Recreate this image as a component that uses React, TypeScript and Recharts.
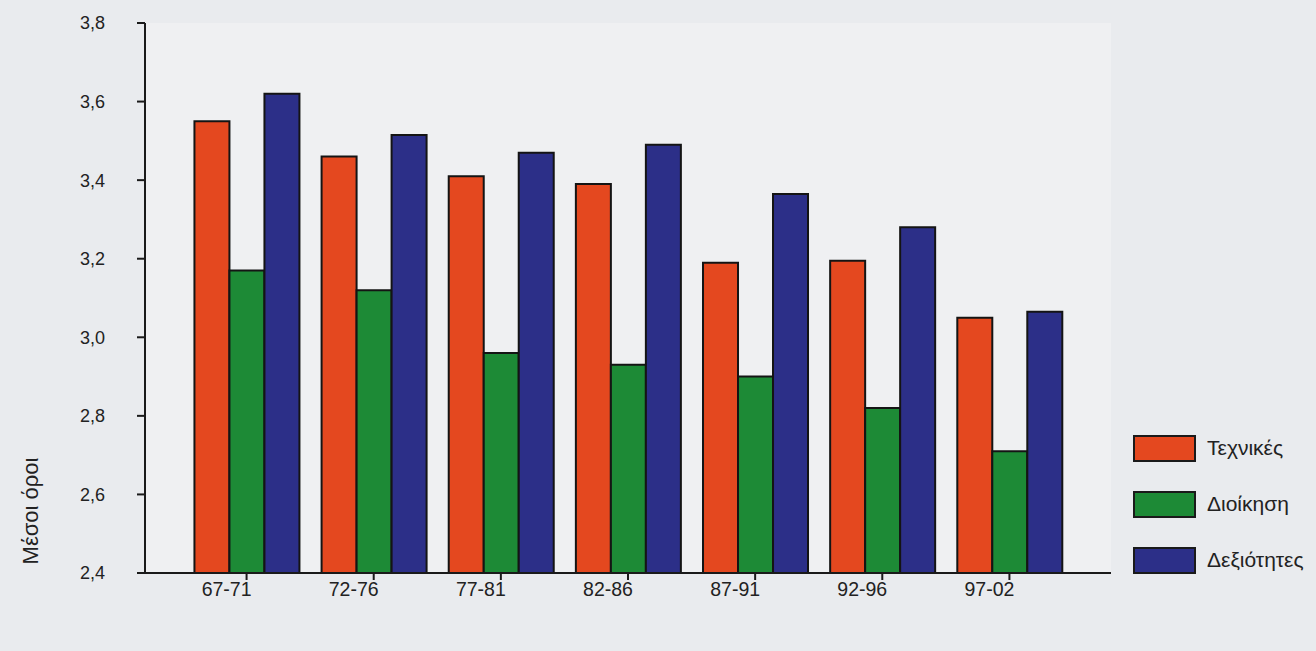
import { BarChart, Bar, XAxis, YAxis, CartesianGrid } from 'recharts';

const periods = ['67-71', '72-76', '77-81', '82-86', '87-91', '92-96', '97-02'];
const texnikes = [3.55, 3.46, 3.41, 3.39, 3.19, 3.195, 3.05];
const dioikisi = [3.17, 3.12, 2.96, 2.93, 2.9, 2.82, 2.71];
const dexiotites = [3.62, 3.515, 3.47, 3.49, 3.365, 3.28, 3.065];
const yTicks = [2.4, 2.6, 2.8, 3.0, 3.2, 3.4, 3.6, 3.8];

const seriesInfo = [
  { key: 'texnikes', name: 'Τεχνικές', color: '#e4481f' },
  { key: 'dioikisi', name: 'Διοίκηση', color: '#1d8a36' },
  { key: 'dexiotites', name: 'Δεξιότητες', color: '#2c2f88' },
];

const data = periods.map((p, i) => ({
  period: p,
  texnikes: texnikes[i],
  dioikisi: dioikisi[i],
  dexiotites: dexiotites[i],
}));

const font = '"Liberation Sans", Arial, sans-serif';

// legend on the right, boxes with dark frame
function LegendBox() {
  return (
    <div style={{ position: 'absolute', left: 1133, top: 420, fontFamily: font }}>
      {seriesInfo.map((s) => (
        <div key={s.key} style={{ display: 'flex', alignItems: 'center', height: 56 }}>
          <div
            style={{
              width: 59,
              height: 23,
              background: s.color,
              border: '2px solid #1a1a1a',
              marginRight: 11,
            }}
          />
          <span style={{ fontSize: 21, color: '#222' }}>{s.name}</span>
        </div>
      ))}
    </div>
  );
}

function AxisTitle() {
  return (
    <text
      x={32}
      y={511}
      transform="rotate(-90 32 511)"
      textAnchor="middle"
      dominantBaseline="middle"
      fontSize={22}
      fontFamily={font}
      fill="#222"
    >
      Μέσοι όροι
    </text>
  );
}

export default function App() {
  return (
    <div
      style={{
        position: 'absolute',
        left: 0,
        top: 0,
        width: 1316,
        height: 651,
        background: '#e9ebee',
      }}
    >
      <BarChart
        width={1316}
        height={651}
        data={data}
        margin={{ top: 23, right: 205, left: 0, bottom: 48 }}
        barCategoryGap="9%"
        barGap={0}
      >
        <CartesianGrid horizontal={false} vertical={false} fill="#eff0f2" />
        <XAxis
          dataKey="period"
          height={30}
          padding={{ left: 38, right: 38 }}
          axisLine={{ stroke: '#1a1a1a', strokeWidth: 2 }}
          tickLine={{ stroke: '#1a1a1a', strokeWidth: 2 }}
          tickSize={7}
          tickMargin={2}
          tick={{ fontSize: 19.5, fill: '#222', fontFamily: font, dx: -20 }}
        />
        <XAxis
          xAxisId="top"
          dataKey="period"
          orientation="top"
          height={0}
          tick={false}
          tickLine={false}
          axisLine={{ stroke: '#1a1a1a', strokeWidth: 2 }}
        />
        <YAxis
          width={145}
          domain={[2.4, 3.8]}
          ticks={yTicks}
          allowDataOverflow
          axisLine={{ stroke: '#1a1a1a', strokeWidth: 2 }}
          tickLine={{ stroke: '#1a1a1a', strokeWidth: 2 }}
          tickSize={8}
          tickMargin={32}
          tickFormatter={(v: number) => v.toFixed(1).replace('.', ',')}
          tick={{ fontSize: 18, fill: '#222', fontFamily: font }}
          label={{ content: () => <AxisTitle /> }}
        />
        <YAxis
          yAxisId="right"
          orientation="right"
          width={0}
          domain={[2.4, 3.8]}
          tick={false}
          tickLine={false}
          axisLine={{ stroke: '#1a1a1a', strokeWidth: 2 }}
        />
        {seriesInfo.map((s) => (
          <Bar
            key={s.key}
            dataKey={s.key}
            name={s.name}
            fill={s.color}
            stroke="#141414"
            strokeWidth={2}
            isAnimationActive={false}
          />
        ))}
      </BarChart>
      <LegendBox />
    </div>
  );
}
